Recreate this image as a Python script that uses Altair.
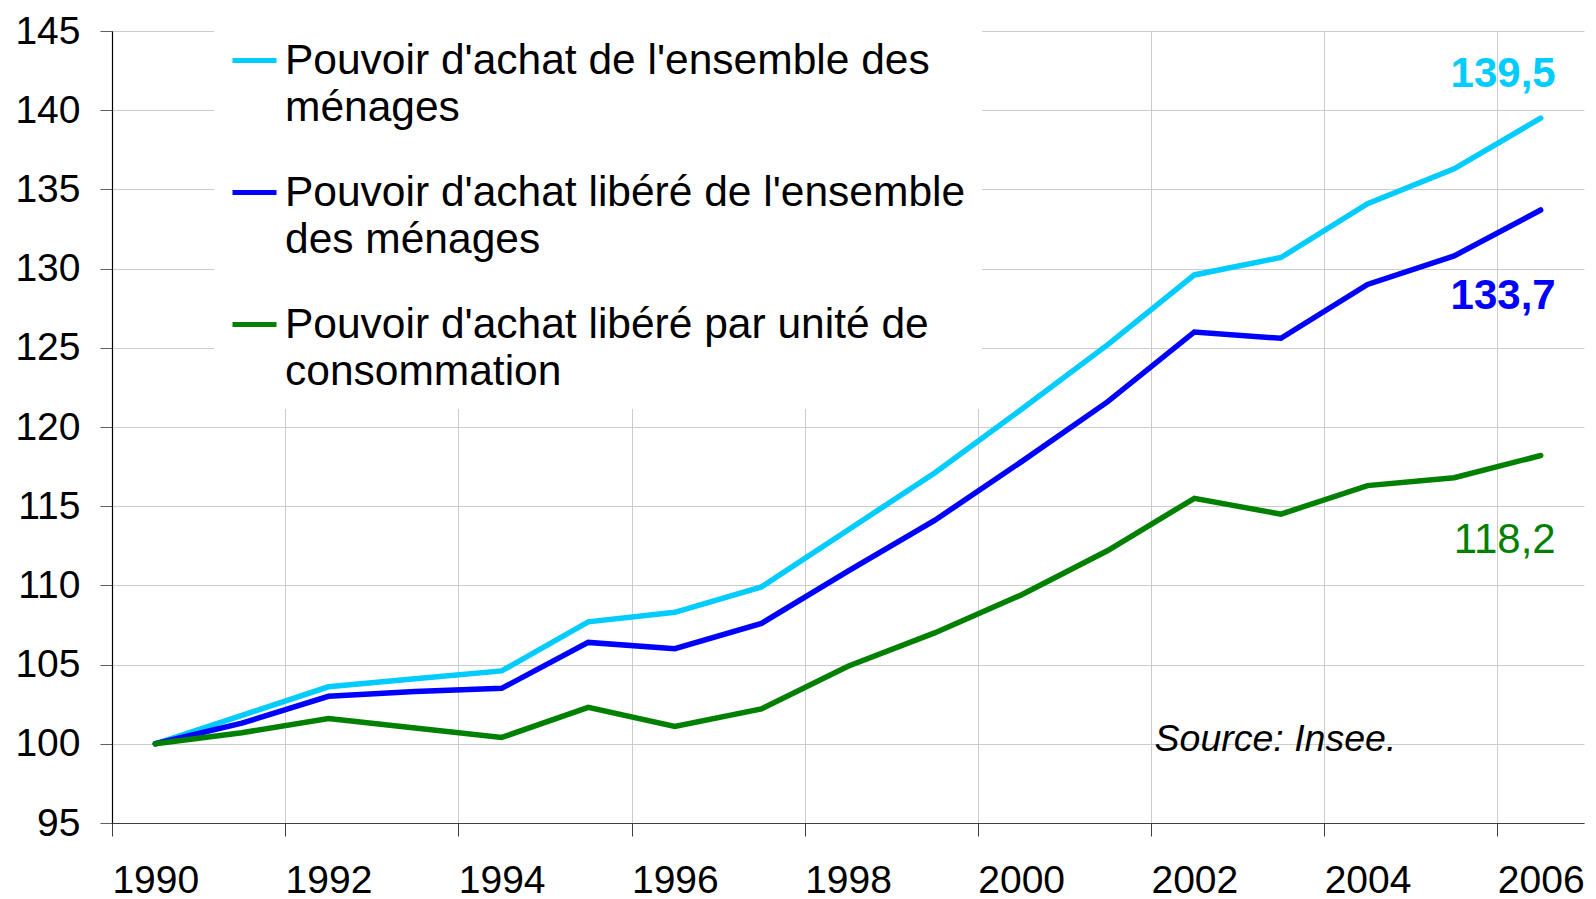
import json
import altair as alt
import pandas as pd

# ---------------- data ----------------
years = list(range(1990, 2007))

series_names = [
    "Pouvoir d'achat de l'ensemble des ménages",
    "Pouvoir d'achat libéré de l'ensemble des ménages",
    "Pouvoir d'achat libéré par unité de consommation",
]
legend_lines = [
    ["Pouvoir d'achat de l'ensemble des", "ménages"],
    ["Pouvoir d'achat libéré de l'ensemble", "des ménages"],
    ["Pouvoir d'achat libéré par unité de", "consommation"],
]
colors = ["#00CCFF", "#0000FF", "#008000"]

ensemble = [100.0, 101.8, 103.6, 104.1, 104.6, 107.7, 108.3, 109.9, 113.5,
            117.1, 121.1, 125.2, 129.6, 130.7, 134.1, 136.3, 139.5]
libere = [100.0, 101.3, 103.0, 103.3, 103.5, 106.4, 106.0, 107.6, 110.9,
          114.1, 117.8, 121.6, 126.0, 125.6, 129.0, 130.8, 133.7]
par_uc = [100.0, 100.7, 101.6, 101.0, 100.4, 102.3, 101.1, 102.2, 104.9,
          107.0, 109.4, 112.2, 115.5, 114.5, 116.3, 116.8, 118.2]

y_ticks = list(range(95, 150, 5))
x_label_years = list(range(1990, 2007, 2))
x_grid_positions = [y - 0.5 for y in x_label_years]

source_text = "Source: Insee."
source_pos = {"year": 2001.54, "value": 99.55}

FONT = "Liberation Sans"

# ---------------- tables ----------------
all_series = [ensemble, libere, par_uc]
rows = []
for name, vals in zip(series_names, all_series):
    for yr, v in zip(years, vals):
        rows.append({"year": yr, "value": v, "serie": name})
df = pd.DataFrame(rows)

end_rows = []
for name, vals in zip(series_names, all_series):
    end_rows.append({"year": years[-1], "value": vals[-1], "serie": name,
                     "txt": f"{vals[-1]:.1f}".replace(".", ",")})
df_end = pd.DataFrame(end_rows)

df_src = pd.DataFrame([{"year": source_pos["year"], "value": source_pos["value"], "txt": source_text}])

# legend label expression -> multi-line labels
expr = "datum.label"
for name, lines in reversed(list(zip(series_names, legend_lines))):
    expr = (f"datum.label == {json.dumps(name, ensure_ascii=False)} ? "
            f"{json.dumps(lines, ensure_ascii=False)} : ({expr})")

x_scale = alt.Scale(domain=[1989.5, 2006.5], nice=False, zero=False)
y_scale = alt.Scale(domain=[95, 145], nice=False, zero=False)

half_test = "datum.value % 1 != 0"

x_axis = alt.Axis(
    values=sorted(x_grid_positions + x_label_years),
    format="d",
    labelExpr="datum.value % 1 == 0 ? datum.label : ''",
    labelOverlap=False,
    labelFontSize=39, labelFont=FONT, labelColor="black",
    labelPadding=25, tickSize=13,
    tickColor="#404040",
    tickOpacity={"condition": {"test": half_test, "value": 1}, "value": 0},
    grid=True, gridColor="#CCCCCC", gridWidth=1,
    gridOpacity={"condition": {"test": half_test, "value": 1}, "value": 0},
    domainColor="#404040", domainWidth=1.2,
    title=None,
)
y_axis = alt.Axis(
    values=y_ticks,
    labelFontSize=39, labelFont=FONT, labelColor="black",
    labelPadding=20, tickSize=12, tickColor="#606060",
    grid=True, gridColor="#CCCCCC", gridWidth=1,
    domainColor="black", domainWidth=1.2,
    title=None,
)

legend = alt.Legend(
    title=None, orient="none", legendX=102, legendY=-11,
    direction="vertical",
    symbolType="stroke", symbolSize=1936, symbolStrokeWidth=5,
    labelFontSize=42.5, labelFont=FONT, labelColor="black",
    labelBaseline="middle", labelOffset=6, labelLimit=900,
    labelExpr=expr,
    rowPadding=39, padding=16, fillColor="white",
)

color = alt.Color("serie:N", scale=alt.Scale(domain=series_names, range=colors),
                  sort=series_names, legend=legend)

lines = alt.Chart(df).mark_line(strokeWidth=5.5, strokeCap="round").encode(
    x=alt.X("year:Q", scale=x_scale, axis=x_axis),
    y=alt.Y("value:Q", scale=y_scale, axis=y_axis),
    color=color,
    order="year:Q",
)

end_dy = [-31, 99, 97]
end_weight = ["bold", "bold", "normal"]
end_layers = []
for name, dy, w in zip(series_names, end_dy, end_weight):
    end_layers.append(
        alt.Chart(df_end).transform_filter(alt.datum.serie == name)
        .mark_text(align="right", baseline="alphabetic", dx=15, dy=dy,
                   fontSize=42, font=FONT, fontWeight=w)
        .encode(
            x=alt.X("year:Q", scale=x_scale),
            y=alt.Y("value:Q", scale=y_scale),
            text="txt:N",
            color=alt.Color("serie:N", scale=alt.Scale(domain=series_names, range=colors), legend=None),
        )
    )

src = alt.Chart(df_src).mark_text(align="left", baseline="alphabetic", fontSize=37.5,
                                  font=FONT, fontStyle="italic", color="black").encode(
    x=alt.X("year:Q", scale=x_scale),
    y=alt.Y("value:Q", scale=y_scale),
    text="txt:N",
)

chart = alt.layer(lines, *end_layers, src).properties(
    width=1472, height=792,
    padding={"left": 6, "top": 4, "right": 0, "bottom": 0},
).configure(
    font=FONT,
    style={"guide-label": {"lineHeight": 47}},
).configure_view(strokeWidth=0)

chart.save("out.html", embed_options={"renderer": "svg", "actions": False})
